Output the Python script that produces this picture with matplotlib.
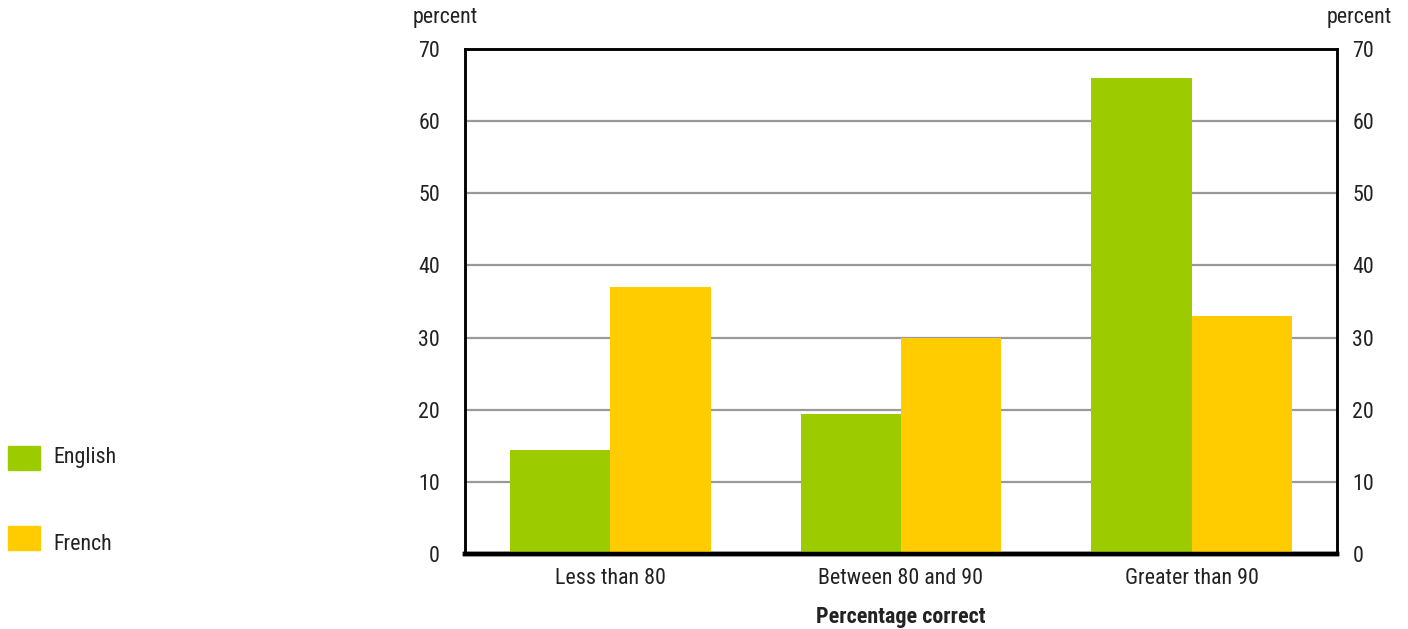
import matplotlib
matplotlib.use("Agg")
import matplotlib.pyplot as plt
import numpy as np
from matplotlib import font_manager

categories = ["Less than 80", "Between 80 and 90", "Greater than 90"]
english = [14.4, 19.4, 66.0]
french = [37.0, 30.0, 33.0]
yticks = [0, 10, 20, 30, 40, 50, 60, 70]

names = {f.name for f in font_manager.fontManager.ttflist}
cands = ["Roboto Condensed", "Liberation Sans Narrow", "Archivo Narrow", "Roboto"]
fam = [c for c in cands if c in names][:1] or ["DejaVu Sans"]
plt.rcParams['font.family'] = fam + ["DejaVu Sans"]

W, H = 1408, 629
fig = plt.figure(figsize=(W/100, H/100), dpi=100)
ax = fig.add_axes([465/W, 1-554/H, (1337-465)/W, (554-49)/H])

green = "#9ccc00"
yellow = "#ffcc00"
txt = "#222222"
fs = 15.8
x = np.arange(len(categories))
bw = 0.345
ax.bar(x - bw/2, english, bw, color=green, zorder=3)
ax.bar(x + bw/2, french, bw, color=yellow, zorder=3)

ax.set_xlim(-0.5, 2.5)
ax.set_ylim(0, 70)
ax.set_yticks(yticks)
ax.set_yticklabels([str(t) for t in yticks], fontsize=fs, color=txt)
for t in yticks[1:-1]:
    ax.axhline(t, color="#999999", lw=1.6, zorder=1)
ax.tick_params(axis='y', length=0, pad=18)
ax.set_xticks(x)
ax.set_xticklabels(categories, fontsize=fs, color=txt)
ax.tick_params(axis='x', length=0, pad=10)

ax2 = ax.twinx()
ax2.set_ylim(0, 70)
ax2.set_yticks(yticks)
ax2.set_yticklabels([str(t) for t in yticks], fontsize=fs, color=txt)
ax2.tick_params(axis='y', length=0, pad=11)

for a in (ax, ax2):
    for s in a.spines.values():
        s.set_color("black")
        s.set_linewidth(1.8)
ax.spines['bottom'].set_linewidth(3.2)
ax2.spines['bottom'].set_linewidth(3.2)

ax.set_xlabel("Percentage correct", fontsize=fs, fontweight="bold", labelpad=12, color=txt)

fig.text(445/W, 1-18/H, "percent", fontsize=fs, ha="center", va="center", color=txt)
fig.text(1359/W, 1-18/H, "percent", fontsize=fs, ha="center", va="center", color=txt)

# legend
for yc, ty, col, lab in [(458, 457, green, "English"), (538, 545, yellow, "French")]:
    fig.patches.append(plt.Rectangle((8/W, 1-(yc+12)/H), 32/W, 24/H, color=col, transform=fig.transFigure, figure=fig))
    fig.text(53/W, 1-ty/H, lab, fontsize=fs, va="center", ha="left", color=txt)

fig.savefig("out.png", dpi=100)
